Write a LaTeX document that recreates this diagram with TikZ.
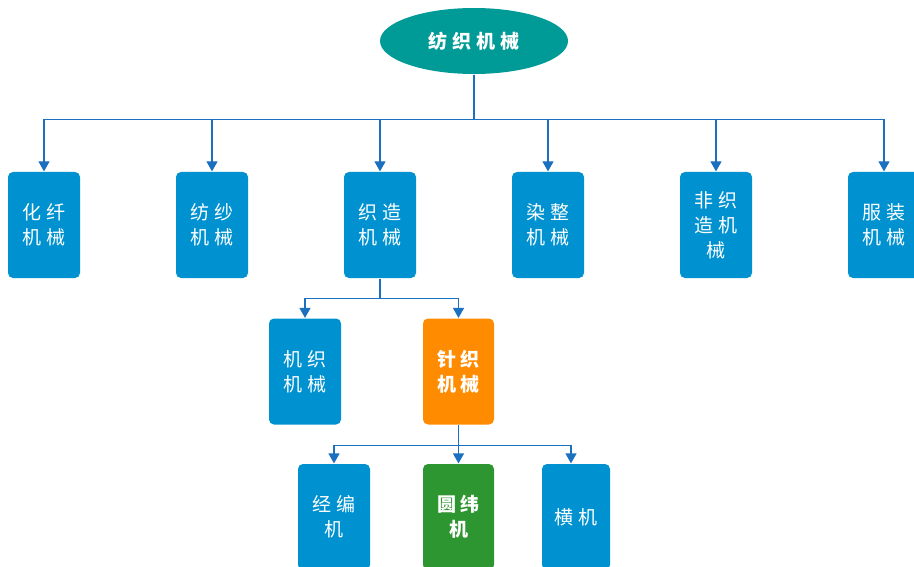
\documentclass[tikz,border=0pt]{standalone}
\usepackage{fontspec}
\newfontfamily\cjk[LetterSpace=25]{Noto Sans CJK SC}
\usetikzlibrary{shapes.geometric,arrows.meta}
\definecolor{boxblue}{HTML}{0092D0}
\definecolor{linecol}{HTML}{1B70C0}
\definecolor{rootcol}{HTML}{009A97}
\definecolor{knitcol}{HTML}{FF8C00}
\definecolor{circcol}{HTML}{2E9630}
\def\colsep{168}

\begin{document}
\begin{tikzpicture}[x=1pt,y=-1pt,draw=linecol,line width=1.2pt,->,>={Triangle[width=11pt,length=10pt]}]
  \tikzstyle{box}=[rectangle,rounded corners=5pt,fill=boxblue,text=white,minimum width=72pt,minimum height=106pt,inner sep=0pt,align=center,font=\cjk\fontsize{19}{25}\selectfont]
  \tikzstyle{hot}=[font=\cjk\bfseries\fontsize{19}{25}\selectfont]
  \useasboundingbox (0,0) rectangle (914,567);

  \node[ellipse,fill=rootcol,text=white,minimum width=188pt,minimum height=66pt,font=\cjk\bfseries\fontsize{19}{20}\selectfont] (R) at (474,41) {纺织机械};

  \foreach \name / \txt in {1/化纤\\机械,2/纺纱\\机械,3/织造\\机械,4/染整\\机械,5/非织\\造机\\械,6/服装\\机械}
    \node[box] (M-\name) at (44+\colsep*\name-\colsep,225) {\txt};

  \node[box] (K-1) at (305,371.5) {机织\\机械};
  \node[box,hot,fill=knitcol,minimum width=71pt] (K-2) at (458.5,371.5) {针织\\机械};

  \node[box] (C-1) at (334,517) {经编\\机};
  \node[box,hot,fill=circcol,minimum width=71pt] (C-2) at (458.5,517) {圆纬\\机};
  \node[box,minimum width=68pt] (C-3) at (576,517) {横机};

    \foreach \dest in {1,...,6}
      \draw (R.south) -- ++(0,45) -| (M-\dest.north);

    \foreach \dest in {1,2}
      \draw (M-3.south) -- ++(0,20) -| (K-\dest.north);

    \foreach \dest in {1,2}
      \draw (K-2.south) -- ++(0,20) -| (C-\dest.north);
    \draw (K-2.south) -- ++(0,20) -| ([xshift=-5pt]C-3.north);

\end{tikzpicture}
\end{document}
